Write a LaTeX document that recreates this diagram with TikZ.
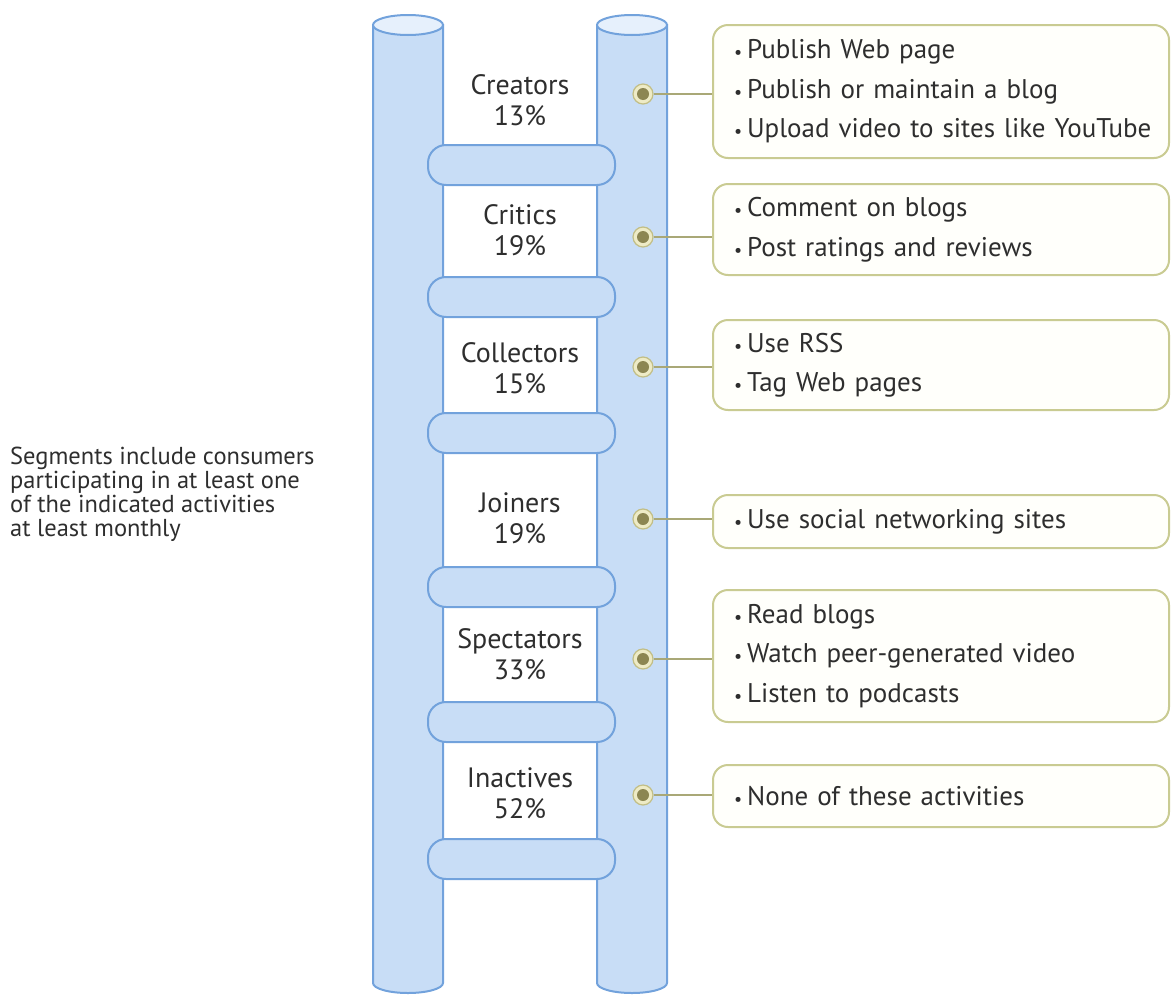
\documentclass[tikz,border=0pt]{standalone}
\usepackage{fontspec}
\setmainfont{PT Sans}
\definecolor{railfill}{HTML}{C8DDF6}
\definecolor{railtop}{HTML}{E6F0FC}
\definecolor{raildraw}{HTML}{72A2DC}
\definecolor{boxdraw}{HTML}{C9CB92}
\definecolor{boxfill}{HTML}{FFFFFB}
\definecolor{dotring}{HTML}{EEEBC6}
\definecolor{dotedge}{HTML}{C2BE86}
\definecolor{dotcore}{HTML}{8C8652}
\definecolor{conncol}{HTML}{A9A877}
\definecolor{txt}{HTML}{2E2E2E}
\newcommand{\bul}{\hspace*{12pt}{\fontsize{18}{18}\selectfont\textbullet}\hspace{5pt}}
\begin{document}
\begin{tikzpicture}[x=1pt,y=-1pt,
  rail/.style={fill=railfill,draw=raildraw,line width=2pt},
  railcap/.style={fill=railtop,draw=raildraw,line width=2pt},
  rung/.style={fill=railfill,draw=raildraw,line width=2pt,rounded corners=18pt},
  dot/.style={circle,minimum size=20pt,inner sep=0pt,fill=dotring,draw=dotedge,line width=1.2pt,
    path picture={\fill[dotcore] (path picture bounding box.center) circle (6pt);}},
  box/.style={rectangle,rounded corners=15pt,draw=boxdraw,fill=boxfill,line width=2pt,
    minimum width=456pt,text width=438pt,align=left,inner xsep=9pt,anchor=west,
    text=txt,font=\fontsize{27}{39.5}\selectfont},
  lbl/.style={align=center,text=txt,font=\fontsize{28}{31}\selectfont},
  conn/.style={draw=conncol,line width=1.5pt}
]
\useasboundingbox (0,0) rectangle (1173,999);
% rails
\draw[rail] (373,25) -- (373,983) arc[start angle=180,end angle=0,x radius=35,y radius=10] -- (443,25) -- cycle;
\draw[railcap] (408,25) ellipse[x radius=35,y radius=10];
\draw[rail] (597,25) -- (597,983) arc[start angle=180,end angle=0,x radius=35,y radius=10] -- (667,25) -- cycle;
\draw[railcap] (632,25) ellipse[x radius=35,y radius=10];
% rungs
\foreach \c in {165,297,433,587,722,859}{
  \draw[rung] (428,\c-20) rectangle (615,\c+20);
}
% labels
\node[lbl] (l1) at (520,100) {Creators\\13\%};
\node[lbl] (l2) at (520,230) {Critics\\19\%};
\node[lbl] (l3) at (520,368) {Collectors\\15\%};
\node[lbl] (l4) at (520,518) {Joiners\\19\%};
\node[lbl] (l5) at (520,654) {Spectators\\33\%};
\node[lbl] (l6) at (520,793) {Inactives\\52\%};
% dots
\node[dot] (d1) at (643,94) {};
\node[dot] (d2) at (643,237) {};
\node[dot] (d3) at (643,367) {};
\node[dot] (d4) at (643,519) {};
\node[dot] (d5) at (643,659) {};
\node[dot] (d6) at (643,795) {};
% boxes
\node[box,minimum height=133pt] (b1) at (712,91.5) {\bul Publish Web page\\\bul Publish or maintain a blog\\\bul Upload video to sites like YouTube};
\node[box,minimum height=91pt] (b2) at (712,229.5) {\bul Comment on blogs\\\bul Post ratings and reviews};
\node[box,minimum height=90pt] (b3) at (712,365) {\bul Use RSS\\\bul Tag Web pages};
\node[box,minimum height=53pt] (b4) at (712,521.5) {\bul Use social networking sites};
\node[box,minimum height=132pt] (b5) at (712,656) {\bul Read blogs\\\bul Watch peer-generated video\\\bul Listen to podcasts};
\node[box,minimum height=62pt] (b6) at (712,796) {\bul None of these activities};
% connectors
\foreach \i in {1,...,6}{
  \draw[conn] (d\i.east) -- (d\i -| b\i.west);
}
% side note
\node[anchor=north west,align=left,text=txt,inner sep=0pt,font=\fontsize{24.5}{24}\selectfont] (note) at (10,447)
  {Segments include consumers\\participating in at least one\\of the indicated activities\\at least monthly};
\end{tikzpicture}
\end{document}
